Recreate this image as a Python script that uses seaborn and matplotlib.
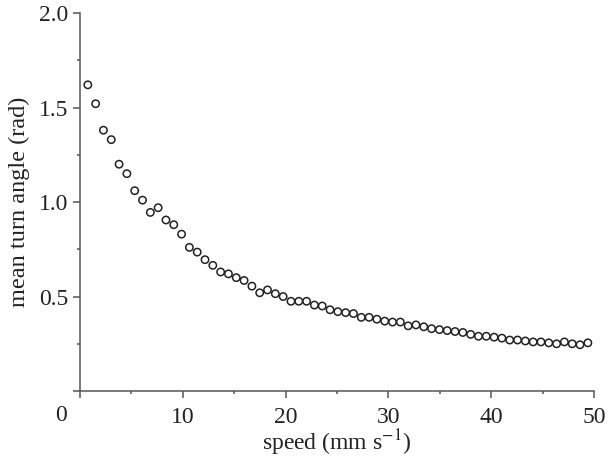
import numpy as np
import pandas as pd
import seaborn as sns
import matplotlib.pyplot as plt
from matplotlib.ticker import MultipleLocator

# speed bins (mm/s) and mean turn angle (rad)
speed = [0.76, 1.52, 2.28, 3.04, 3.80, 4.56, 5.32, 6.08, 6.84, 7.60,
         8.36, 9.12, 9.88, 10.64, 11.40, 12.16, 12.92, 13.68, 14.44, 15.20,
         15.96, 16.72, 17.48, 18.24, 19.00, 19.76, 20.52, 21.28, 22.04, 22.80,
         23.56, 24.32, 25.08, 25.84, 26.60, 27.36, 28.12, 28.88, 29.64, 30.40,
         31.16, 31.92, 32.68, 33.44, 34.20, 34.96, 35.72, 36.48, 37.24, 38.00,
         38.76, 39.52, 40.28, 41.04, 41.80, 42.56, 43.32, 44.08, 44.84, 45.60,
         46.36, 47.12, 47.88, 48.64, 49.40]
turn_angle = [1.62, 1.52, 1.38, 1.33, 1.20, 1.15, 1.06, 1.01, 0.945, 0.97,
              0.905, 0.88, 0.83, 0.76, 0.735, 0.695, 0.665, 0.63, 0.62, 0.60,
              0.585, 0.555, 0.52, 0.535, 0.515, 0.50, 0.475, 0.475, 0.475, 0.455,
              0.45, 0.43, 0.42, 0.415, 0.41, 0.39, 0.39, 0.38, 0.37, 0.365,
              0.365, 0.345, 0.35, 0.34, 0.33, 0.325, 0.32, 0.315, 0.31, 0.30,
              0.29, 0.29, 0.285, 0.28, 0.27, 0.27, 0.265, 0.26, 0.26, 0.255,
              0.25, 0.26, 0.25, 0.245, 0.255]

df = pd.DataFrame({'speed': speed, 'angle': turn_angle})

sns.set_theme(style='ticks')
plt.rcParams['font.family'] = ['Liberation Serif', 'DejaVu Serif']
plt.rcParams['mathtext.fontset'] = 'stix'

fig = plt.figure(figsize=(6.08, 4.59), dpi=100)
ax = fig.add_axes([0.1316, 0.148, 0.8454, 0.8237])

sns.scatterplot(data=df, x='speed', y='angle', ax=ax, s=28,
                facecolors='none', edgecolors='#222222', linewidth=1.1)

ax.set_xlim(0, 50)
ax.set_ylim(0, 2.0)
ax.xaxis.set_minor_locator(MultipleLocator(5))
ax.yaxis.set_minor_locator(MultipleLocator(0.25))

ax.set_xticks([0, 10, 20, 30, 40, 50])
ax.set_xticklabels(['', '10', '20', '30', '40', '50'])
ax.set_yticks([0, 0.5, 1.0, 1.5, 2.0])
ax.set_yticklabels(['', '0.5', '1.0', '1.5', '2.0'])
# shared origin label sits left of the corner
ax.annotate('0', xy=(0, 0), xycoords='data', xytext=(-13.7, -17.3),
            textcoords='offset points', ha='center', va='center',
            fontsize=17, color='#222222')

sns.despine(ax=ax)
for side in ['left', 'bottom']:
    ax.spines[side].set_color('#555555')
    ax.spines[side].set_linewidth(1.1)
ax.tick_params(which='major', direction='out', length=5.2, width=1.1,
               color='#555555', labelsize=17, labelcolor='#222222')
ax.tick_params(which='minor', direction='out', length=2.5, width=1.1,
               color='#555555')
ax.tick_params(axis='x', which='major', pad=6)
ax.tick_params(axis='y', which='major', pad=3)

ax.set_xlabel('speed (mm s$^{-1}$)', fontsize=17, color='#222222', labelpad=0)
ax.set_ylabel('mean turn angle (rad)', fontsize=17.5, color='#222222', labelpad=7)

fig.savefig('out.png', dpi=100)
